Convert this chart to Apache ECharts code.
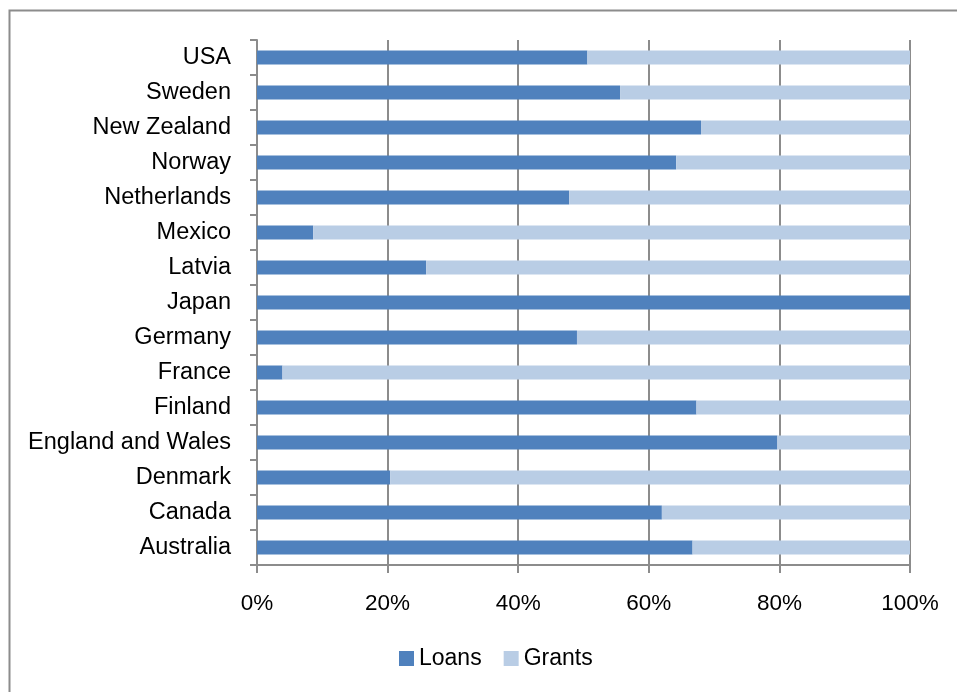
<!DOCTYPE html>
<html lang="en">
<head>
    <meta charset="UTF-8">
    <title>Loans and Grants</title>
    <script src="https://cdn.jsdelivr.net/npm/echarts@6/dist/echarts.min.js"></script>
    <style>
        html, body { margin: 0; padding: 0; background: #fff; }
    </style>
</head>
<body>
<div id="main" style="width: 957px;height:692px;"></div>

<script type="text/javascript">
    // categories, bottom to top
    var countries = ['Australia', 'Canada', 'Denmark', 'England and Wales', 'Finland', 'France', 'Germany',
        'Japan', 'Latvia', 'Mexico', 'Netherlands', 'Norway', 'New Zealand', 'Sweden', 'USA'];
    var loans = [66.7, 62.0, 20.4, 79.7, 67.3, 3.9, 49.0, 100, 25.9, 8.6, 47.8, 64.2, 68.0, 55.6, 50.6];
    var grants = [33.3, 38.0, 79.6, 20.3, 32.7, 96.1, 51.0, 0, 74.1, 91.4, 52.2, 35.8, 32.0, 44.4, 49.4];
    var xTicks = [0, 20, 40, 60, 80, 100];

    var fontFam = '"Liberation Sans", Arial, sans-serif';
    var axisGray = '#8c8c8c';

    var myChart = echarts.init(document.getElementById('main'));

    var option = {
        backgroundColor: '#fff',
        animation: false,
        textStyle: { fontFamily: fontFam },
        graphic: [{
            type: 'rect',
            shape: { x: 9.5, y: 10.5, width: 1000, height: 1000 },
            style: { fill: 'none', stroke: '#8c8c8c', lineWidth: 2 },
            silent: true
        }],
        legend: {
            data: ['Loans', 'Grants'],
            left: 394,
            top: 642,
            itemWidth: 15,
            itemHeight: 15,
            itemGap: 22,
            icon: 'rect',
            textStyle: { fontSize: 23, color: '#000', fontFamily: fontFam }
        },
        grid: {
            left: 257,
            right: 47,
            top: 40,
            bottom: 127
        },
        xAxis: {
            type: 'value',
            min: 0,
            max: 100,
            interval: 20,
            axisLine: { show: true, lineStyle: { color: axisGray, width: 2 } },
            axisTick: { show: true, length: 8, lineStyle: { color: axisGray, width: 2 } },
            splitLine: { show: true, lineStyle: { color: axisGray, width: 2 } },
            axisLabel: {
                fontSize: 22.5,
                color: '#000',
                margin: 27,
                fontFamily: fontFam,
                formatter: function (v) {
                    return xTicks.indexOf(v) >= 0 ? v + '%' : '';
                }
            }
        },
        yAxis: {
            type: 'category',
            data: countries,
            axisLine: { show: true, lineStyle: { color: axisGray, width: 2 } },
            axisTick: { show: true, length: 7, lineStyle: { color: axisGray, width: 2 } },
            axisLabel: { fontSize: 23.5, color: '#000', margin: 26, fontFamily: fontFam }
        },
        series: [
            {
                name: 'Loans',
                type: 'bar',
                stack: 'total',
                barWidth: 14,
                itemStyle: { color: '#4f81bd' },
                data: loans
            },
            {
                name: 'Grants',
                type: 'bar',
                stack: 'total',
                barWidth: 14,
                itemStyle: { color: '#b9cde5' },
                data: grants
            }
        ]
    };
    myChart.setOption(option);
</script>
</body>
</html>
